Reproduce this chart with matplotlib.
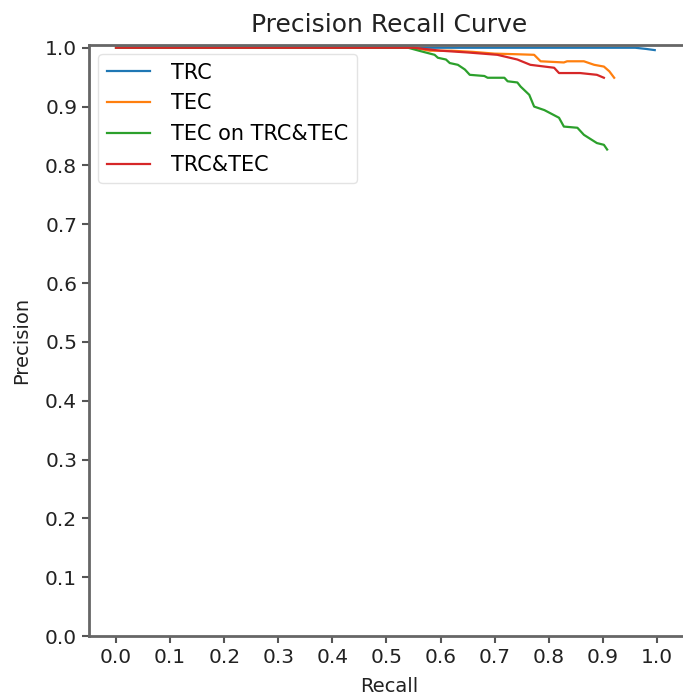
import numpy as np
import matplotlib
matplotlib.use("Agg")
import matplotlib.pyplot as plt

# precision / recall
trc_recall = [0.0, 0.50, 0.96, 0.98, 0.996]
trc_prec = [1.0, 1.0, 1.0, 0.998, 0.996]

tec_recall = [0.0, 0.55, 0.58, 0.62, 0.66, 0.70, 0.74, 0.773, 0.785, 0.828,
              0.834, 0.865, 0.884, 0.902, 0.912, 0.921]
tec_prec = [1.0, 1.0, 0.995, 0.995, 0.993, 0.990, 0.989, 0.988, 0.977, 0.975,
            0.977, 0.977, 0.971, 0.968, 0.960, 0.949]

tec_on_both_recall = [0.0, 0.54, 0.564, 0.589, 0.595, 0.61, 0.617, 0.632, 0.645,
                      0.654, 0.681, 0.687, 0.718, 0.724, 0.742, 0.748, 0.764,
                      0.773, 0.792, 0.819, 0.828, 0.853, 0.865, 0.889, 0.902, 0.908]
tec_on_both_prec = [1.0, 1.0, 0.994, 0.988, 0.983, 0.980, 0.974, 0.971, 0.963,
                    0.954, 0.952, 0.949, 0.949, 0.943, 0.941, 0.934, 0.920,
                    0.900, 0.894, 0.881, 0.866, 0.864, 0.852, 0.838, 0.835, 0.827]

both_recall = [0.0, 0.55, 0.60, 0.65, 0.705, 0.742, 0.766, 0.81, 0.819, 0.858,
               0.889, 0.902]
both_prec = [1.0, 1.0, 0.995, 0.992, 0.988, 0.980, 0.971, 0.966, 0.957, 0.957,
             0.954, 0.949]

fig = plt.figure(figsize=(6.83, 6.98), dpi=100)
# the source image is cropped: the right spine sits just past the edge
ax = fig.add_axes([0.1303, 0.0888, 0.879, 0.847])

lw = 1.6
ax.plot(trc_recall, trc_prec, color="tab:blue", lw=lw, label="TRC")
ax.plot(tec_recall, tec_prec, color="tab:orange", lw=lw, label="TEC")
ax.plot(tec_on_both_recall, tec_on_both_prec, color="tab:green", lw=lw,
        label="TEC on TRC&TEC")
ax.plot(both_recall, both_prec, color="tab:red", lw=lw, label="TRC&TEC")

ax.set_xlim(-0.05, 1.06)
ax.set_ylim(0.0, 1.005)
ax.set_xticks(np.arange(0, 1.01, 0.1))
ax.set_yticks(np.arange(0, 1.01, 0.1))
ax.tick_params(labelsize=14.5, length=5, width=1.5, color="#555555",
               labelcolor="#222222")
for s in ax.spines.values():
    s.set_linewidth(2.0)
    s.set_color("#666666")

ax.set_xlabel("Recall", fontsize=14, labelpad=7, color="#222222")
ax.set_ylabel("Precision", fontsize=14, labelpad=10, color="#222222")
ax.set_title("Precision Recall Curve", fontsize=18, pad=9, color="#222222")
leg = ax.legend(loc="upper left", fontsize=15, handlelength=2.1,
                handletextpad=1.0, labelspacing=0.52,
                borderaxespad=0.45)
leg.get_frame().set_edgecolor("#dddddd")

fig.savefig("out.png", dpi=100)
